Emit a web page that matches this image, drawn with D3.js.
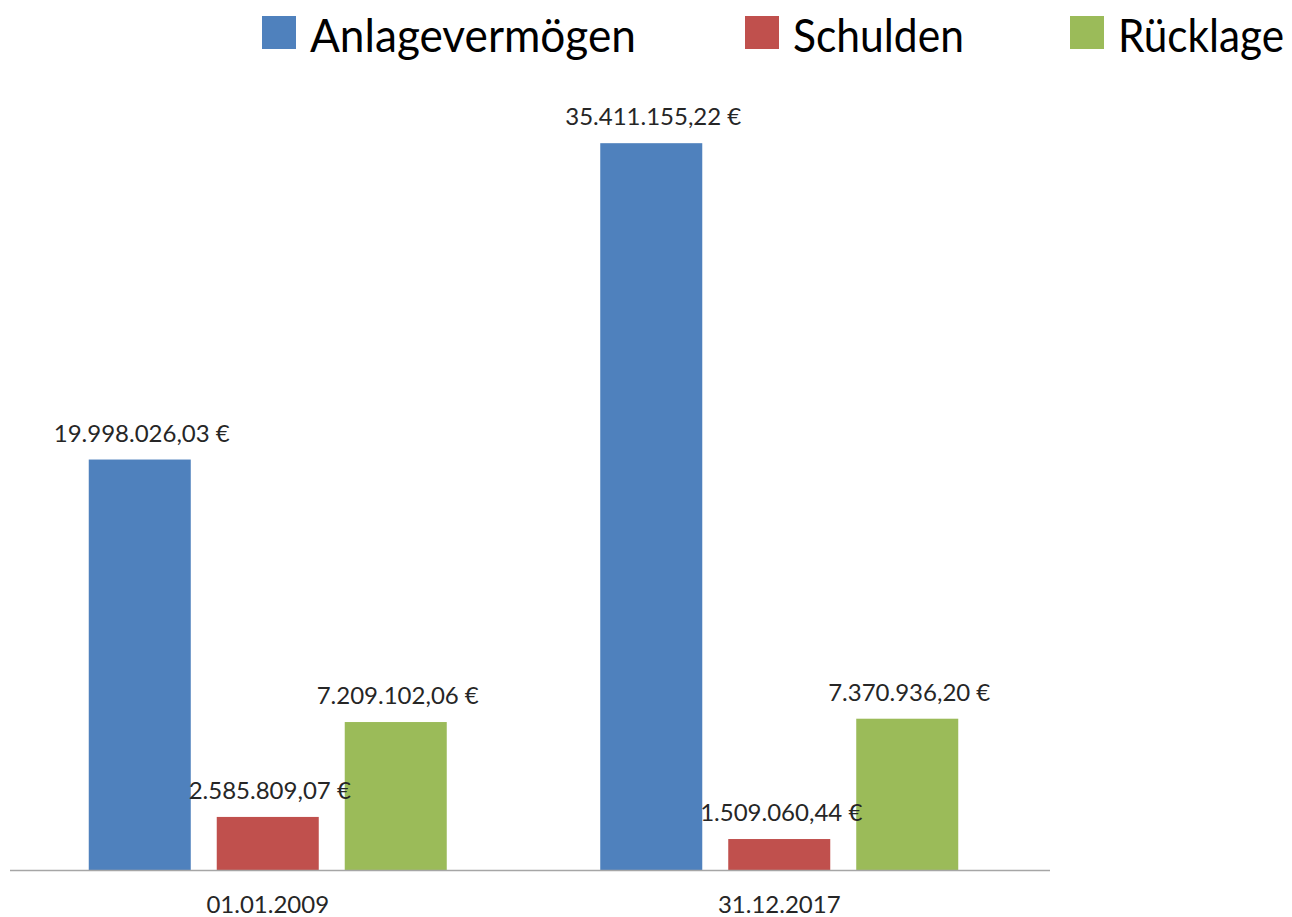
<!DOCTYPE html>
<html>
<head>
<meta charset="utf-8">
<script src="https://cdn.jsdelivr.net/npm/d3@7"></script>
<style>
  body { margin: 0; background: #fff; }
  text { font-family: Lato, "Open Sans", sans-serif; fill: #262626; }
</style>
</head>
<body>
<svg id="chart" width="1292" height="917"></svg>
<script>
// Chart data
const categories = ["01.01.2009", "31.12.2017"];
const series = ["Anlagevermögen", "Schulden", "Rücklage"];
const values2009 = [19998026.03, 2585809.07, 7209102.06];
const values2017 = [35411155.22, 1509060.44, 7370936.20];
const valueLabels2009 = ["19.998.026,03 €", "2.585.809,07 €", "7.209.102,06 €"];
const valueLabels2017 = ["35.411.155,22 €", "1.509.060,44 €", "7.370.936,20 €"];
const colors = ["#4F81BD", "#C0504D", "#9BBB59"];

(function () {

const svg = d3.select("#chart");
const baseline = 870;

// Category scale across the plot area
const x0 = d3.scaleBand()
    .domain(categories)
    .range([12, 1035])
    .padding(0);

// Bars inside each category
const clusterWidth = 358;
const x1 = d3.scaleBand()
    .domain(series)
    .range([0, clusterWidth])
    .paddingInner(0.203);

const y = d3.scaleLinear()
    .domain([0, 40000000])
    .range([baseline, 49]);

const color = d3.scaleOrdinal().domain(series).range(colors);

const rows = categories.map((c, i) => ({
    category: c,
    values: series.map((s, j) => ({
        series: s,
        value: (i === 0 ? values2009 : values2017)[j],
        label: (i === 0 ? valueLabels2009 : valueLabels2017)[j]
    }))
}));

const groups = svg.selectAll(".cat")
    .data(rows)
    .enter().append("g")
    .attr("class", "cat")
    .attr("transform", d => `translate(${x0(d.category) + (x0.bandwidth() - clusterWidth) / 2},0)`);

groups.selectAll("rect")
    .data(d => d.values)
    .enter().append("rect")
    .attr("x", d => x1(d.series))
    .attr("y", d => y(d.value))
    .attr("width", x1.bandwidth())
    .attr("height", d => baseline - y(d.value))
    .attr("fill", d => color(d.series));

groups.selectAll(".val")
    .data(d => d.values)
    .enter().append("text")
    .attr("class", "val")
    .attr("x", d => x1(d.series) + x1.bandwidth() / 2 + 2)
    .attr("y", d => y(d.value) - 18)
    .attr("text-anchor", "middle")
    .style("font-size", "24px")
    .text(d => d.label);

// Category axis line
svg.append("line")
    .attr("x1", 10).attr("x2", 1050)
    .attr("y1", baseline + 0.5).attr("y2", baseline + 0.5)
    .attr("stroke", "#a6a6a6")
    .attr("stroke-width", 1.5);

svg.selectAll(".cat-label")
    .data(categories)
    .enter().append("text")
    .attr("class", "cat-label")
    .attr("x", d => x0(d) + x0.bandwidth() / 2)
    .attr("y", 913)
    .attr("text-anchor", "middle")
    .style("font-size", "24px")
    .text(d => d);

// Legend (condensed text, squeezed horizontally)
const legendX = [262, 745, 1070];
const legendW = [326, 171, 166];
const legend = svg.selectAll(".legend")
    .data(series)
    .enter().append("g")
    .attr("class", "legend")
    .attr("transform", (d, i) => `translate(${legendX[i]},0)`);

legend.append("rect")
    .attr("x", 0).attr("y", 16)
    .attr("width", 34).attr("height", 33)
    .attr("fill", d => color(d));

legend.append("text")
    .style("font-size", "47px")
    .style("fill", "#000")
    .text(d => d)
    .attr("transform", function (d, i) {
        const sx = legendW[i] / this.getComputedTextLength();
        return `translate(48,52) scale(${sx},1)`;
    });

})();
</script>
</body>
</html>
